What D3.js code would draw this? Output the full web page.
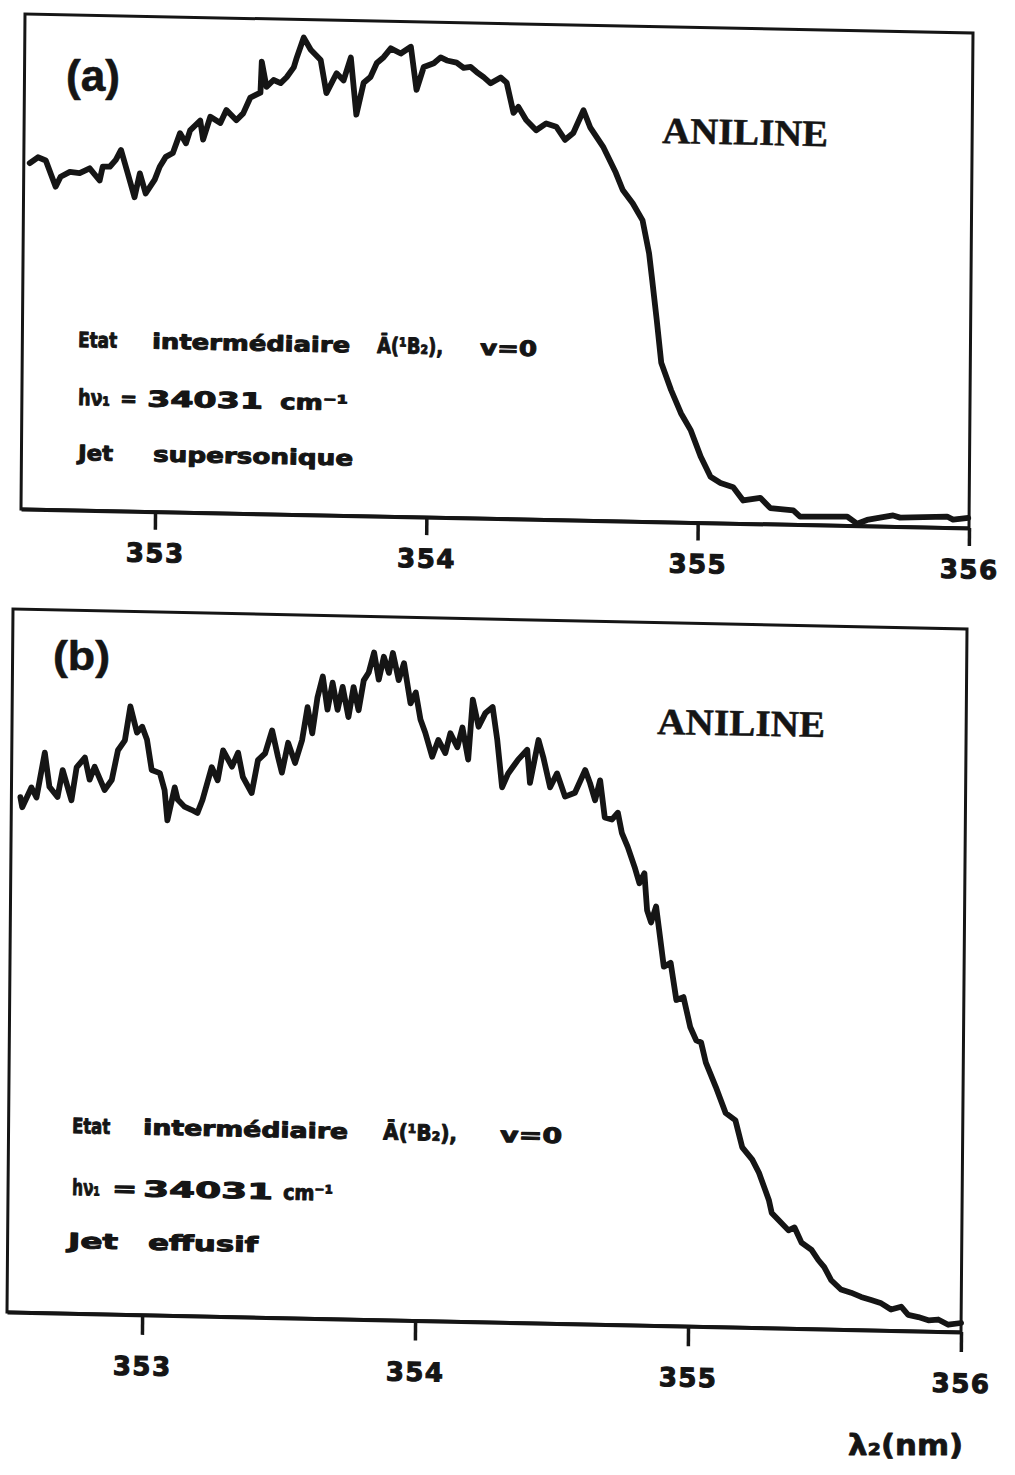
<!DOCTYPE html>
<html><head><meta charset="utf-8">
<script src="https://cdn.jsdelivr.net/npm/d3@7"></script>
<style>body{margin:0;background:#fff}</style>
</head><body><svg id="c" width="1015" height="1475"></svg>
<script>
// ---------- DATA ----------
const tickValues = [353, 354, 355, 356];
const xTitle = "λ₂(nm)";
const compound = "ANILINE";
const panelLabels = ["(a)", "(b)"];
const stateLabel = ["Etat", "intermédiaire", "Ā(¹B₂),", "v=0"];
const photonLabel = ["hν₁", "=", "34031", "cm⁻¹"];
const jetLabels = [["Jet", "supersonique"], ["Jet", "effusif"]];

// panel (a): supersonic jet — wavelength (nm) and signal (a.u.)
const waveA = [352.528,352.558,352.587,352.624,352.642,352.676,352.712,352.749,352.786,352.797,
352.823,352.845,352.864,352.889,352.915,352.934,352.956,352.989,353.007,353.029,
353.055,353.081,353.103,353.118,353.155,353.166,353.192,353.229,353.251,353.288,
353.313,353.339,353.376,353.380,353.398,353.424,353.450,353.472,353.498,353.509,
353.534,353.560,353.597,353.619,353.656,353.682,353.708,353.730,353.756,353.781,
353.804,353.829,353.855,353.892,353.929,353.951,353.977,354.014,354.039,354.062,
354.098,354.124,354.150,354.172,354.198,354.224,354.261,354.283,354.309,354.327,
354.356,354.393,354.430,354.467,354.500,354.530,354.567,354.592,354.640,354.688,
354.714,354.751,354.788,354.813,354.825,354.843,354.861,354.898,354.935,354.972,
355.009,355.046,355.083,355.130,355.167,355.230,355.267,355.352,355.377,355.551,
355.588,355.624,355.661,355.720,355.746,355.919,355.941,355.997];
const sigA = [346,352,349,323,333,338,337,342,330,344,
344,351,361,338,314,338,318,332,345,355,
359,379,369,382,392,373,396,390,403,393,
400,416,421,452,427,434,431,437,447,457,
477,465,455,422,442,435,458,401,433,439,
453,459,468,463,470,427,450,454,460,457,
455,450,451,446,441,435,441,436,406,412,
399,389,396,393,380,387,410,393,374,348,
331,318,301,268,242,202,159,132,109,92,
66,46,40,36,23,26,16,14,8,9,
2,6,8,11,9,11,8,10];

// panel (b): effusive jet
const waveB = [352.538,352.545,352.578,352.597,352.626,352.644,352.674,352.692,352.725,352.743,
352.773,352.791,352.809,352.846,352.872,352.894,352.919,352.938,352.963,352.982,
353.000,353.018,353.048,353.066,353.077,353.103,353.114,353.139,353.165,353.187,
353.205,353.238,353.260,353.279,353.312,353.334,353.352,353.385,353.407,353.433,
353.458,353.480,353.495,353.517,353.543,353.568,353.587,353.605,353.623,353.642,
353.660,353.678,353.697,353.715,353.737,353.755,353.774,353.792,353.810,353.829,
353.847,353.865,353.884,353.898,353.920,353.939,353.964,353.983,354.001,354.019,
354.045,354.067,354.093,354.111,354.137,354.155,354.177,354.192,354.214,354.239,
354.265,354.283,354.302,354.324,354.360,354.393,354.404,354.434,354.452,354.478,
354.503,354.533,354.569,354.606,354.624,354.643,354.661,354.679,354.705,354.727,
354.742,354.764,354.790,354.808,354.826,354.837,354.852,354.870,354.900,354.925,
354.947,354.973,354.999,355.021,355.039,355.057,355.094,355.131,355.167,355.193,
355.230,355.255,355.292,355.303,355.329,355.365,355.387,355.413,355.450,355.475,
355.497,355.523,355.559,355.596,355.633,355.670,355.707,355.743,355.780,355.806,
355.843,355.880,355.916,355.953,356.000];
const sigB = [515,505,525,515,560,526,516,543,513,546,
556,534,547,524,534,564,574,608,582,588,
575,545,542,525,495,528,516,509,506,503,
516,549,536,566,550,564,540,524,557,564,
587,561,545,575,555,578,611,585,621,642,
609,636,609,632,602,632,609,639,647,667,
640,663,647,667,640,657,617,628,601,588,
564,581,568,588,574,594,562,622,595,609,
615,582,535,549,563,573,540,583,566,536,
550,527,531,554,541,524,544,507,505,512,
492,478,458,442,452,415,403,419,359,363,
326,329,299,286,284,264,240,214,207,180,
168,155,128,115,108,98,101,86,79,69,
62,49,40,37,33,30,27,21,24,16,
14,11,12,7,9];

// ---------- DRAWING ----------
const INK = "#151515";
const svg = d3.select("#c");

function drawPanel(cfg) {
  const [TL, BL, BR] = [cfg.TL, cfg.BL, cfg.BR];
  const W = Math.hypot(BR[0]-BL[0], BR[1]-BL[1]);
  const H = Math.hypot(BL[0]-TL[0], BL[1]-TL[1]);
  const m = [(BR[0]-BL[0])/W, (BR[1]-BL[1])/W, (BL[0]-TL[0])/H, (BL[1]-TL[1])/H, TL[0], TL[1]];
  const g = svg.append("g").attr("transform", `matrix(${m.join(",")})`);
  const x = d3.scaleLinear().domain(cfg.xDomain).range([0, W]);
  const y = d3.scaleLinear().domain(cfg.yDomain).range([H, 0]);

  g.append("rect").attr("width", W).attr("height", H)
    .attr("fill", "none").attr("stroke", INK).attr("stroke-width", 3);

  const ax = g.append("g").attr("transform", `translate(0,${H})`)
    .call(d3.axisBottom(x).tickValues(tickValues).tickSizeInner(cfg.tick)
      .tickSizeOuter(0).tickPadding(cfg.pad).tickFormat(d3.format("d")));
  ax.select(".domain").attr("stroke", INK).attr("stroke-width", 4);
  ax.selectAll(".tick line").attr("stroke", INK).attr("stroke-width", 3.5);
  ax.selectAll(".tick text").attr("fill", INK).attr("stroke", INK).attr("stroke-width", 1.1)
    .style("font-family", "'DejaVu Sans', sans-serif").style("font-weight", "bold")
    .style("font-size", "26px").attr("letter-spacing", 1.5);

  const pts = cfg.wave.map((w, i) => [w, cfg.sig[i]]);
  g.append("path").datum(pts)
    .attr("d", d3.line().x(d => x(d[0])).y(d => y(d[1])))
    .attr("fill", "none").attr("stroke", INK).attr("stroke-width", 5.8)
    .attr("stroke-linejoin", "round").attr("stroke-linecap", "round");
}

drawPanel({TL:[25,14], BL:[21,509], BR:[969,528], xDomain:[352.506,356], yDomain:[0,495],
  tick:18, pad:14, wave:waveA, sig:sigA});
drawPanel({TL:[13,609], BL:[7,1312], BR:[961,1332], xDomain:[352.505,356], yDomain:[0,703],
  tick:20, pad:22, wave:waveB, sig:sigB});

function piece(parent, str, x, y, len, font, size, weight, sw) {
  const t = parent.append("text").attr("x", x).attr("y", y).text(str)
    .attr("fill", INK).style("font-family", font).style("font-size", size + "px")
    .style("font-weight", weight || "bold");
  if (sw) t.attr("stroke", INK).attr("stroke-width", sw).attr("stroke-linejoin", "round");
  if (len) t.attr("textLength", len).attr("lengthAdjust", "spacingAndGlyphs");
  return t;
}
function line(x0, y0, angle, items) {
  const g = svg.append("g").attr("transform", `rotate(${angle},${x0},${y0})`);
  items.forEach(([s, x, len, size]) => piece(g, s, x, y0, len, "'DejaVu Sans', sans-serif", size || 21, "bold", 1.0));
  return g;
}

const ANNO = "'DejaVu Sans', sans-serif";
// panel labels
piece(svg, panelLabels[0], 66, 91, 54, "'Liberation Sans', Arial, sans-serif", 44, "bold", 0.6);
piece(svg, panelLabels[1], 53, 670, 57, "'Liberation Sans', Arial, sans-serif", 41, "bold", 0.6);

// compound names
svg.append("g").attr("transform", "rotate(1.1,662,143)")
  .call(g => piece(g, compound, 662, 143, 166, "'Liberation Serif', 'Times New Roman', serif", 37, "bold", 0.5));
svg.append("g").attr("transform", "rotate(1.0,657,734)")
  .call(g => piece(g, compound, 657, 734, 168, "'Liberation Serif', 'Times New Roman', serif", 37, "bold", 0.5));

// panel (a) annotation
line(78, 347, 1.15, [[stateLabel[0],78,39],[stateLabel[1],152,198],[stateLabel[2],377,66,22],[stateLabel[3],480,57]]);
line(78, 405, 1.15, [[photonLabel[0],78,32,22],[photonLabel[1],120,17],[photonLabel[2],147,116,22],[photonLabel[3],280,68,21]]);
line(78, 460, 1.15, [[jetLabels[0][0],78,35],[jetLabels[0][1],153,200]]);

// panel (b) annotation
line(72, 1133, 1.2, [[stateLabel[0],72,38],[stateLabel[1],143,205],[stateLabel[2],383,74,22],[stateLabel[3],500,62]]);
line(72, 1195, 1.2, [[photonLabel[0],72,28,22],[photonLabel[1],112,25],[photonLabel[2],143,130,22],[photonLabel[3],283,50,21]]);
line(68, 1248, 1.2, [[jetLabels[1][0],68,50],[jetLabels[1][1],148,110]]);

// x-axis title
piece(svg, xTitle, 848, 1455, 115, ANNO, 29, "bold", 0.8);
</script>
</body></html>
